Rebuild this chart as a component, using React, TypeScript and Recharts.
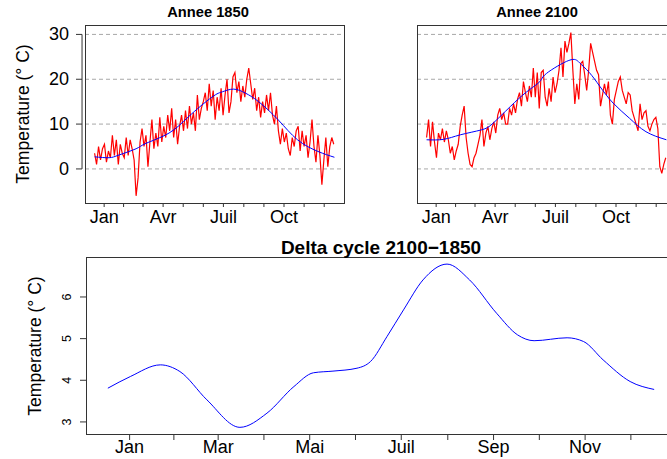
import React from 'react';
import { LineChart, Line, XAxis, YAxis, ReferenceLine } from 'recharts';

const FONT = '"Liberation Sans", Arial, Helvetica, sans-serif';
const CW = 700;
const CH = 459;
const YW = 40;
const XH = 30;

// month ticks sit at mid-month, labels are thinned like R does
const MONTHS = ['Jan', 'Fev', 'Mar', 'Avr', 'Mai', 'Juin', 'Juil', 'Aout', 'Sep', 'Oct', 'Nov', 'Dec'];
const MONTH_MID = [15.5, 45, 74.5, 105, 135.5, 166, 196.5, 227.5, 258, 288.5, 319, 349.5];
const X_DOMAIN: [number, number] = [-13.56, 379.56];

const TOP_Y_DOMAIN: [number, number] = [-7.6, 32.1];
const TOP_Y_TICKS = [0, 10, 20, 30];
const DELTA_Y_DOMAIN: [number, number] = [2.71, 6.96];
const DELTA_Y_TICKS = [3, 4, 5, 6];

// daily temperature, read every 3rd day (day 1, 4, 7, ...)
const T1850 = [
  3.5, 1.0, 5.0, 2.0, 4.5, 5.5, 1.5, 4.0, 2.5, 7.5,
  3.0, 6.5, 1.0, 5.5, 3.5, 2.5, 7.0, 3.0, 6.5, 4.5,
  2.0, -6.0, -2.0, 6.0, 9.0, 5.0, 7.5, 0.5, 6.0, 11.0,
  4.5, 8.0, 5.0, 11.5, 6.0, 9.5, 7.0, 12.0, 8.5, 13.5,
  7.0, 11.0, 5.5, 9.5, 12.0, 8.5, 13.0, 9.0, 14.0, 10.0,
  12.5, 8.5, 16.5, 11.0, 13.5, 15.0, 17.0, 13.0, 19.0, 14.0,
  17.5, 11.0, 16.0, 13.0, 18.0, 12.0, 16.5, 20.0, 12.5, 15.0,
  20.5, 21.5, 17.0, 19.5, 15.0, 18.5, 16.0, 20.0, 22.5, 19.0,
  15.5, 18.0, 13.0, 16.0, 11.5, 15.0, 12.5, 16.5, 13.0, 17.0,
  12.0, 10.0, 14.0, 8.5, 5.5, 9.0, 6.0, 8.0, 4.5, 3.0,
  7.0, 5.0, 8.5, 9.5, 4.0, 8.5, 5.0, 7.5, 2.5, 6.0,
  11.0, 5.0, 1.5, 7.5, 3.0, -3.5, 2.0, 7.0, 0.5, 5.0,
  7.0, 5.5,
];

const T2100 = [
  7.0, 11.0, 5.0, 10.5, 6.0, 2.5, 8.0, 6.5, 9.0, 6.0,
  8.5, 6.5, 3.5, 5.0, 2.0, 4.0, 5.5, 9.5, 12.0, 14.0,
  7.0, 3.5, 1.0, 0.5, 2.5, 3.5, 5.5, 7.5, 11.0, 5.0,
  8.0, 9.5, 6.5, 9.0, 10.5, 8.0, 12.0, 13.5, 11.0, 12.5,
  10.0, 10.0, 13.5, 12.0, 14.5, 12.5, 15.5, 17.0, 14.0, 19.5,
  17.0, 15.0, 18.5, 16.0, 22.5, 16.0, 21.5, 13.5, 21.5, 22.0,
  16.0, 14.0, 18.0, 15.0, 20.5, 17.0, 19.0, 22.0, 27.0, 20.5,
  28.5, 26.0, 28.0, 30.4, 22.0, 14.5, 19.0, 15.5, 23.5, 24.0,
  21.0, 17.5, 22.0, 28.0, 26.0, 24.0, 22.0, 21.0, 14.0, 16.5,
  19.0, 16.5, 19.5, 12.0, 10.0, 15.5, 17.5, 19.5, 20.5, 17.5,
  16.0, 14.5, 17.0, 16.5, 13.0, 11.5, 10.0, 8.5, 14.5, 11.0,
  12.5, 13.0, 9.5, 8.5, 10.0, 11.0, 11.5, 9.0, 0.5, -1.0,
  1.0, 2.5,
];

// smoothed seasonal cycle (blue)
const SMOOTH_DAYS_1850 = [1, 23, 38, 64, 79, 114, 144, 179, 195, 212, 230, 250, 280, 309, 340, 365];
const SMOOTH_1850 = [2.7, 2.5, 3.1, 4.5, 5.7, 8.0, 11.7, 16.0, 17.2, 17.8, 16.9, 15.0, 10.9, 6.5, 3.9, 2.6];
const SMOOTH_DAYS_2100 = [1, 27, 52, 84, 102, 128, 153, 173, 183, 217, 233, 248, 264, 284, 309, 334, 365];
const SMOOTH_2100 = [6.5, 6.6, 7.6, 8.7, 10.2, 13.9, 17.2, 19.5, 21.3, 24.2, 23.7, 21.5, 18.4, 14.7, 11.3, 8.3, 6.5];

const DELTA_DAYS = [1, 16, 36, 49, 67, 89, 107, 125, 138, 151, 167, 176, 187, 198, 211, 227, 242, 260, 274, 285, 307, 318, 331, 349, 365];
const DELTA = [3.81, 4.09, 4.37, 4.21, 3.53, 2.87, 3.21, 3.85, 4.18, 4.22, 4.29, 4.45, 5.05, 5.69, 6.41, 6.79, 6.41, 5.61, 5.09, 4.95, 5.02, 4.93, 4.49, 3.97, 3.78];

const TOP_T = 25;
const TOP_B = 203;
const P1 = { left: 85, right: 344 };
const P2 = { left: 417, right: 676 };
const P3 = { left: 86, right: 676, top: 257, bottom: 434 };
const AXIS_DAY = X_DOMAIN[0] - 4.5;

function MonthTick(props: any) {
  const { x, y, payload, every, dy } = props;
  const i = MONTH_MID.indexOf(payload.value);
  if (i % every !== 0) return <g />;
  return (
    <text x={x} y={y + dy} textAnchor="middle" fontSize={18} fontFamily={FONT} fill="#000">
      {MONTHS[i]}
    </text>
  );
}

function TempTick(props: any) {
  const { x, y, payload } = props;
  return (
    <g>
      <line x1={x - 9} x2={x - 3} y1={y} y2={y} stroke="#333" />
      <text x={x - 16} y={y + 6} textAnchor="end" fontSize={18} fontFamily={FONT} fill="#000">
        {payload.value}
      </text>
    </g>
  );
}

function DeltaTick(props: any) {
  const { x, y, payload } = props;
  const tx = x - 9;
  return (
    <text x={tx} y={y} transform={`rotate(-90, ${tx}, ${y})`} textAnchor="middle" fontSize={12.5} fontFamily={FONT} fill="#000">
      {payload.value}
    </text>
  );
}

function YearPanel({ box, temps, sDays, sTemps, withAxis }: any) {
  const red = temps.map((t: number, i: number) => ({ day: 1 + 3 * i, t }));
  const blue = sDays.map((day: number, i: number) => ({ day, t: sTemps[i] }));
  return (
    <div style={{ position: 'absolute', left: 0, top: 0 }}>
      <LineChart
        width={CW}
        height={CH}
        margin={{ top: TOP_T, left: box.left - YW, right: CW - box.right, bottom: CH - TOP_B - XH }}
      >
        <XAxis
          type="number"
          dataKey="day"
          domain={X_DOMAIN}
          allowDataOverflow
          ticks={MONTH_MID}
          interval={0}
          height={XH}
          axisLine={false}
          tickSize={4}
          tickMargin={0}
          tickLine={{ stroke: '#333' }}
          tick={(p: any) => <MonthTick {...p} every={3} dy={16} />}
        />
        <YAxis
          type="number"
          domain={TOP_Y_DOMAIN}
          allowDataOverflow
          ticks={TOP_Y_TICKS}
          interval={0}
          width={YW}
          axisLine={false}
          tickLine={false}
          tickSize={0}
          tickMargin={0}
          tick={withAxis ? (p: any) => <TempTick {...p} /> : false}
        />
        {TOP_Y_TICKS.map((v) => (
          <ReferenceLine key={v} y={v} stroke="#a8a8a8" strokeDasharray="4 3" />
        ))}
        {withAxis && (
          <ReferenceLine
            segment={[{ x: AXIS_DAY, y: 0 }, { x: AXIS_DAY, y: 30 }]}
            ifOverflow="visible"
            stroke="#333"
          />
        )}
        <Line data={red} dataKey="t" type="linear" stroke="#ff0000" strokeWidth={1.2} dot={false} isAnimationActive={false} />
        <Line data={blue} dataKey="t" type="natural" stroke="#0000ff" strokeWidth={1} dot={false} isAnimationActive={false} />
      </LineChart>
    </div>
  );
}

function DeltaPanel() {
  const rows = DELTA_DAYS.map((day, i) => ({ day, d: DELTA[i] }));
  return (
    <div style={{ position: 'absolute', left: 0, top: 0 }}>
      <LineChart
        width={CW}
        height={CH}
        data={rows}
        margin={{ top: P3.top, left: P3.left - YW, right: CW - P3.right, bottom: CH - P3.bottom - 25 }}
      >
        <XAxis
          type="number"
          dataKey="day"
          domain={X_DOMAIN}
          allowDataOverflow
          ticks={MONTH_MID}
          interval={0}
          height={25}
          axisLine={false}
          tickSize={6}
          tickMargin={0}
          tickLine={{ stroke: '#333' }}
          tick={(p: any) => <MonthTick {...p} every={2} dy={13} />}
        />
        <YAxis
          type="number"
          domain={DELTA_Y_DOMAIN}
          allowDataOverflow
          ticks={DELTA_Y_TICKS}
          interval={0}
          width={YW}
          axisLine={false}
          tickSize={6}
          tickMargin={0}
          tickLine={{ stroke: '#333' }}
          tick={(p: any) => <DeltaTick {...p} />}
        />
        <Line dataKey="d" type="monotone" stroke="#0000ff" strokeWidth={1} dot={false} isAnimationActive={false} />
      </LineChart>
    </div>
  );
}

export default function App() {
  return (
    <div
      style={{
        position: 'absolute',
        left: 0,
        top: 0,
        width: 667,
        height: 459,
        overflow: 'hidden',
        background: '#fff',
      }}
    >
      <YearPanel box={P1} temps={T1850} sDays={SMOOTH_DAYS_1850} sTemps={SMOOTH_1850} withAxis />
      <YearPanel box={P2} temps={T2100} sDays={SMOOTH_DAYS_2100} sTemps={SMOOTH_2100} withAxis={false} />
      <DeltaPanel />
      <svg width={CW} height={CH} style={{ position: 'absolute', left: 0, top: 0, pointerEvents: 'none' }}>
        <rect x={P1.left + 0.5} y={TOP_T + 0.5} width={P1.right - P1.left} height={TOP_B - TOP_T} fill="none" stroke="#333" />
        <rect x={P2.left + 0.5} y={TOP_T + 0.5} width={P2.right - P2.left} height={TOP_B - TOP_T} fill="none" stroke="#333" />
        <rect x={P3.left + 0.5} y={P3.top + 0.5} width={P3.right - P3.left} height={P3.bottom - P3.top} fill="none" stroke="#333" />
        <g fontFamily={FONT} fill="#000">
          <text x={208} y={17} textAnchor="middle" fontSize={14.7} fontWeight="bold">Annee 1850</text>
          <text x={537} y={17} textAnchor="middle" fontSize={14.7} fontWeight="bold">Annee 2100</text>
          <text x={381} y={254} textAnchor="middle" fontSize={19} fontWeight="bold">Delta cycle 2100−1850</text>
          <text x={29} y={114} transform="rotate(-90, 29, 114)" textAnchor="middle" fontSize={17.5}>Temperature (° C)</text>
          <text x={41} y={346} transform="rotate(-90, 41, 346)" textAnchor="middle" fontSize={17.5}>Temperature (° C)</text>
        </g>
      </svg>
    </div>
  );
}
